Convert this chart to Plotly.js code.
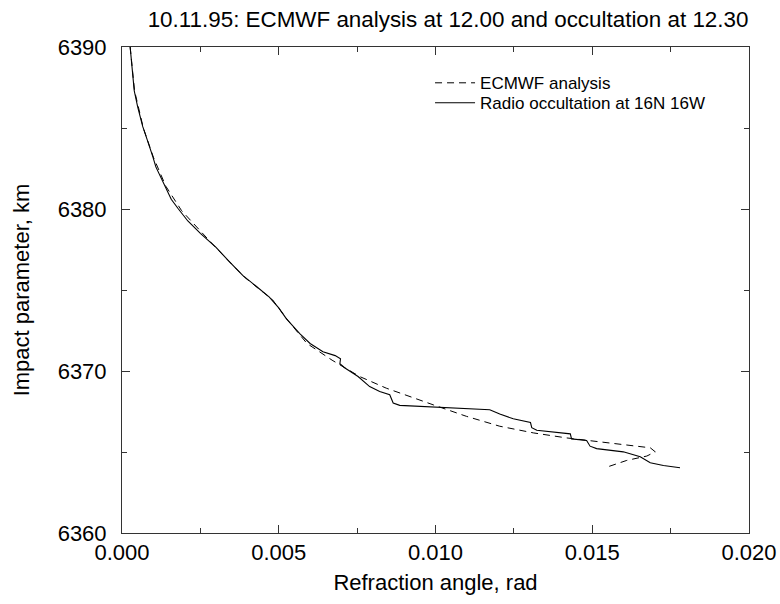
<!DOCTYPE html>
<html><head><meta charset="utf-8">
<script src="https://cdn.plot.ly/plotly-3.0.1.min.js"></script>
<style>html,body{margin:0;padding:0;background:#fff}#chart{width:780px;height:604px}</style>
</head><body><div id="chart"></div>
<script>
// Radio occultation (solid) : refraction angle (rad) vs impact parameter (km)
const occAngle = [0.00026,0.00032,0.00039,0.0005,0.00066,0.0008,0.00093,0.00098,0.00108,0.00125,0.0014,0.00157,0.0018,0.0021,0.0025,0.0030,0.0034,0.00385,0.0043,0.0047,0.0050,0.00524,0.00567,0.0060,0.00641,0.0068,0.00697,0.00695,0.0071,0.00753,0.0079,0.00822,0.00854,0.00865,0.00886,0.01035,0.01173,0.01205,0.01248,0.01303,0.01307,0.01323,0.0143,0.01434,0.01482,0.01493,0.01514,0.01599,0.01653,0.01685,0.01727,0.0178];
const occImpact = [6390,6388.8,6387.3,6386.3,6385.1,6384.3,6383.6,6383.25,6382.6,6381.9,6381.2,6380.6,6380.0,6379.26,6378.5,6377.63,6376.8,6375.9,6375.2,6374.56,6373.9,6373.23,6372.31,6371.7,6371.19,6370.95,6370.75,6370.45,6370.2,6369.66,6369.04,6368.74,6368.53,6368.02,6367.88,6367.75,6367.61,6367.34,6367.05,6366.82,6366.5,6366.34,6366.12,6365.81,6365.71,6365.36,6365.21,6365.01,6364.71,6364.34,6364.17,6364.03];
// ECMWF analysis (dashed)
const ecAngle = [0.00026,0.0004,0.00068,0.001,0.0014,0.0019,0.0030,0.0039,0.0048,0.0053,0.0059,0.0067,0.00758,0.00843,0.00993,0.01099,0.01205,0.01312,0.01418,0.01525,0.01631,0.01685,0.01701,0.01674,0.0161,0.01541];
const ecImpact = [6390,6387.3,6385,6383.2,6381.4,6379.9,6377.6,6375.8,6374.4,6373.1,6371.7,6370.67,6369.66,6368.94,6367.91,6367.2,6366.59,6366.18,6365.87,6365.63,6365.42,6365.26,6365.01,6364.75,6364.48,6364.03];
const xTicks = [0,0.005,0.01,0.015,0.02];
const xTickText = ['0.000','0.005','0.010','0.015','0.020'];
const yTicks = [6360,6370,6380,6390];

const FONT = 'Liberation Sans, Arial, Helvetica, sans-serif';
const traces = [
  {x: ecAngle, y: ecImpact, mode:'lines', name:'ECMWF analysis', legend:'legend',
   line:{color:'#000', width:1, dash:'7px,5px'}},
  {x: occAngle, y: occImpact, mode:'lines', name:'Radio occultation at 16N 16W', legend:'legend2',
   line:{color:'#000', width:1.1}}
];
const axisCommon = {showgrid:false, zeroline:false, showline:true, linecolor:'#333', linewidth:1,
  mirror:'ticks', ticks:'inside', ticklen:8, tickcolor:'#333', tickwidth:1,
  tickfont:{family:FONT, size:22, color:'#000'}};
const legendCommon = {x:0.4913, xanchor:'left', yanchor:'middle', bgcolor:'rgba(0,0,0,0)',
  font:{family:FONT, size:17, color:'#000'}, itemwidth:40};
const layout = {
  width:780, height:604, paper_bgcolor:'#fff', plot_bgcolor:'#fff',
  margin:{l:122, r:31, t:47, b:70.5},
  showlegend:true,
  legend: Object.assign({}, legendCommon, {y:0.9254}),
  legend2: Object.assign({}, legendCommon, {y:0.8843}),
  title:{text:'10.11.95: ECMWF analysis at 12.00 and occultation at 12.30',
    font:{family:FONT, size:22.4, color:'#000'}, x:0.52, xref:'paper', xanchor:'center',
    y:1-19/604, yref:'container', yanchor:'middle'},
  xaxis: Object.assign({}, axisCommon, {range:[0,0.02], tickvals:xTicks, ticktext:xTickText,
    minor:{dtick:0.0025, ticks:'inside', ticklen:5, tickcolor:'#333', tickwidth:1},
    title:{text:'Refraction angle, rad', font:{family:FONT, size:22, color:'#000'}, standoff:10}}),
  yaxis: Object.assign({}, axisCommon, {range:[6360,6390], tickvals:yTicks, ticklabelstandoff:10,
    minor:{dtick:5, ticks:'inside', ticklen:5, tickcolor:'#333', tickwidth:1},
    title:{text:'Impact parameter, km', font:{family:FONT, size:22, color:'#000'}, standoff:21}})
};
Plotly.newPlot('chart', traces, layout, {displayModeBar:false, staticPlot:true});
</script></body></html>
